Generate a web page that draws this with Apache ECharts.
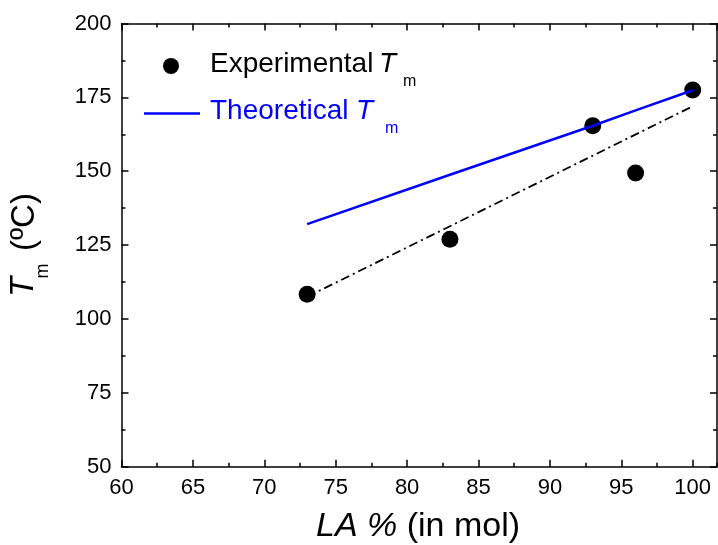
<!DOCTYPE html>
<html><head><meta charset="utf-8">
<script src="https://cdn.jsdelivr.net/npm/echarts@6/dist/echarts.min.js"></script>
<style>html,body{margin:0;padding:0;background:#fff}#c{width:718px;height:545px}</style>
</head><body><div id="c"></div><script>
// ---- data ----
const laPercent = [73, 83, 93, 96, 100];
const tmExperimental = [108.4, 127.0, 165.4, 149.4, 177.5];
const laTheory = [73, 83, 93, 96, 100];
const tmTheoretical = [132.1, 148.8, 165.4, 170.6, 177.4];
const laFit = [73, 100];
const tmFit = [107.5, 172.0];
const xRange = [60, 101.7];
const yRange = [50, 200];
const xStep = 5;
const yStep = 25;

const FONT = "'Liberation Sans', Arial, Helvetica, sans-serif";
const lineStyle = { color: '#000', width: 1.5 };

function pairs(xs, ys) { return xs.map((x, i) => [x, ys[i]]); }

function xAx(pos, labels, minor) {
  return {
    type: 'value', position: pos, min: xRange[0], max: xRange[1],
    interval: minor ? xStep / 2 : xStep,
    axisLine: { show: !minor, lineStyle: lineStyle },
    axisTick: { show: true, inside: true, length: minor ? 4 : 7, lineStyle: lineStyle },
    axisLabel: { show: labels, margin: 10, fontSize: 22, color: '#000', fontFamily: FONT, showMaxLabel: false },
    splitLine: { show: false }
  };
}
function yAx(pos, labels) {
  return {
    type: 'value', position: pos, min: yRange[0], max: yRange[1], interval: yStep,
    axisLine: { show: true, lineStyle: lineStyle },
    axisTick: { show: true, inside: true, length: 7, lineStyle: lineStyle },
    minorTick: { show: true, splitNumber: 2, length: 4, lineStyle: lineStyle },
    axisLabel: { show: labels, margin: 10, fontSize: 22, color: '#000', fontFamily: FONT },
    splitLine: { show: false }
  };
}

const chart = echarts.init(document.getElementById('c'), null, { renderer: 'canvas' });
chart.setOption({
  animation: false,
  backgroundColor: '#fff',
  grid: { left: 121.5, top: 23.5, right: 1, bottom: 78.3, containLabel: false },
  xAxis: [xAx('bottom', true, false), xAx('bottom', false, true), xAx('top', false, false), xAx('top', false, true)],
  yAxis: [yAx('left', true), yAx('right', false)],
  series: [
    { type: 'scatter', name: 'Experimental', xAxisIndex: 0, yAxisIndex: 0,
      data: pairs(laPercent, tmExperimental), symbol: 'circle', symbolSize: 17,
      itemStyle: { color: '#000', opacity: 1 }, z: 2 },
    { type: 'line', name: 'Fit', xAxisIndex: 0, yAxisIndex: 0,
      data: pairs(laFit, tmFit), showSymbol: false, symbol: 'none',
      lineStyle: { color: '#000', width: 1.8, type: [9, 4, 2, 4] }, z: 3 },
    { type: 'line', name: 'Theoretical', xAxisIndex: 0, yAxisIndex: 0,
      data: pairs(laTheory, tmTheoretical), showSymbol: false, symbol: 'none',
      lineStyle: { color: '#0000ff', width: 2.5 }, z: 4 }
  ],
  graphic: [
    // legend
    { type: 'circle', shape: { cx: 171, cy: 66, r: 8 }, style: { fill: '#000' } },
    { type: 'text', x: 210, y: 64, style: { text: 'Experimental', font: '28px ' + FONT, fill: '#000', verticalAlign: 'middle', align: 'left' } },
    { type: 'text', x: 379, y: 64, style: { text: 'T', font: 'italic 28px ' + FONT, fill: '#000', verticalAlign: 'middle', align: 'left' } },
    { type: 'text', x: 403, y: 82, style: { text: 'm', font: '16px ' + FONT, fill: '#000', verticalAlign: 'middle', align: 'left' } },
    { type: 'line', shape: { x1: 144, y1: 113.5, x2: 200, y2: 113.5 }, style: { stroke: '#0000ff', lineWidth: 2.5 } },
    { type: 'text', x: 210, y: 111, style: { text: 'Theoretical', font: '28px ' + FONT, fill: '#0000ff', verticalAlign: 'middle', align: 'left' } },
    { type: 'text', x: 356, y: 111, style: { text: 'T', font: 'italic 28px ' + FONT, fill: '#0000ff', verticalAlign: 'middle', align: 'left' } },
    { type: 'text', x: 385, y: 129, style: { text: 'm', font: '16px ' + FONT, fill: '#0000ff', verticalAlign: 'middle', align: 'left' } },
    // x axis title
    { type: 'text', x: 418, y: 527, style: {
        text: '{i|LA %} (in mol)', fill: '#000', align: 'center', verticalAlign: 'middle',
        font: '34px ' + FONT,
        rich: { i: { fontStyle: 'italic', fontSize: 34, fontFamily: FONT } } } },
    // y axis title (rotated)
    { type: 'text', x: 24, y: 287, rotation: Math.PI / 2, style: { text: 'T', font: 'italic 33px ' + FONT, fill: '#000', align: 'center', verticalAlign: 'middle' } },
    { type: 'text', x: 43, y: 271, rotation: Math.PI / 2, style: { text: 'm', font: '18px ' + FONT, fill: '#000', align: 'center', verticalAlign: 'middle' } },
    { type: 'text', x: 25, y: 222, rotation: Math.PI / 2, style: { text: '(ºC)', font: '33px ' + FONT, fill: '#000', align: 'center', verticalAlign: 'middle' } }
  ]
});
</script></body></html>
